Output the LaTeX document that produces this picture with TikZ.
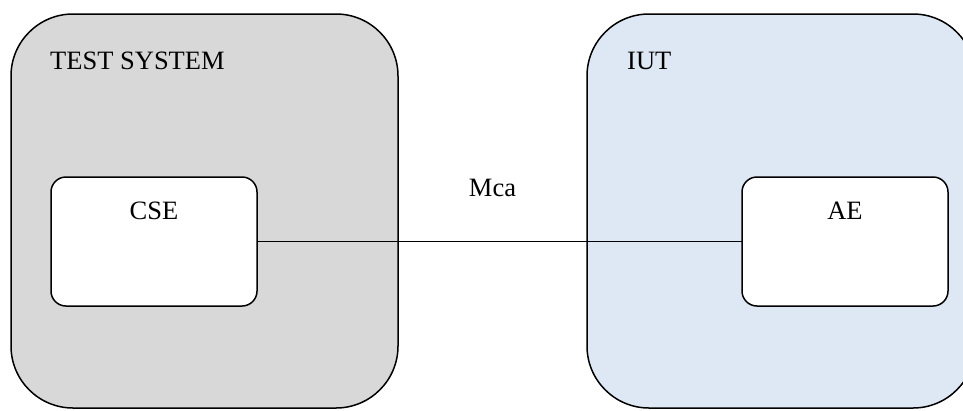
\documentclass[tikz,border=0pt]{standalone}
\usepackage{fontspec}
\setmainfont{Liberation Serif}
\begin{document}
\begin{tikzpicture}[x=1pt,y=-1pt,
  outerbox/.style={draw=black, line width=1.5pt, rounded corners=62pt,
    minimum height=394pt, inner sep=0pt, outer sep=0pt},
  innerbox/.style={draw=black, line width=1.5pt, fill=white, rounded corners=15pt,
    minimum width=206pt, minimum height=129pt, inner sep=0pt, outer sep=0pt},
  lbl/.style={font=\fontsize{26.5}{30}\selectfont, inner sep=0pt, anchor=base},
  link/.style={draw=black, line width=1.3pt}]
\definecolor{sysgray}{HTML}{D8D8D8}
\definecolor{iutblue}{HTML}{DEE8F4}
\useasboundingbox (0,0) rectangle (963,410);
\clip (0,0) rectangle (963,410);

% the two domains
\node[outerbox, fill=sysgray, minimum width=387pt] (ts) at (204.5,211) {};
\node[outerbox, fill=iutblue, minimum width=388pt] (iut) at (781,211) {};

% entities inside the domains
\node[innerbox] (cse) at (154,241.5) {};
\node[innerbox] (ae) at (845,241.5) {};

% reference point between them
\draw[link] (cse.east) -- (ae.west);

% labels
\node[lbl, anchor=base west] (tslbl) at (50,69) {TEST SYSTEM};
\node[lbl, anchor=base west] (iutlbl) at (627,69) {IUT};
\node[lbl] (cselbl) at (154,219) {CSE};
\node[lbl] (aelbl) at (845,219) {AE};
\node[lbl] (mca) at (492.5,196) {Mca};
\end{tikzpicture}
\end{document}
